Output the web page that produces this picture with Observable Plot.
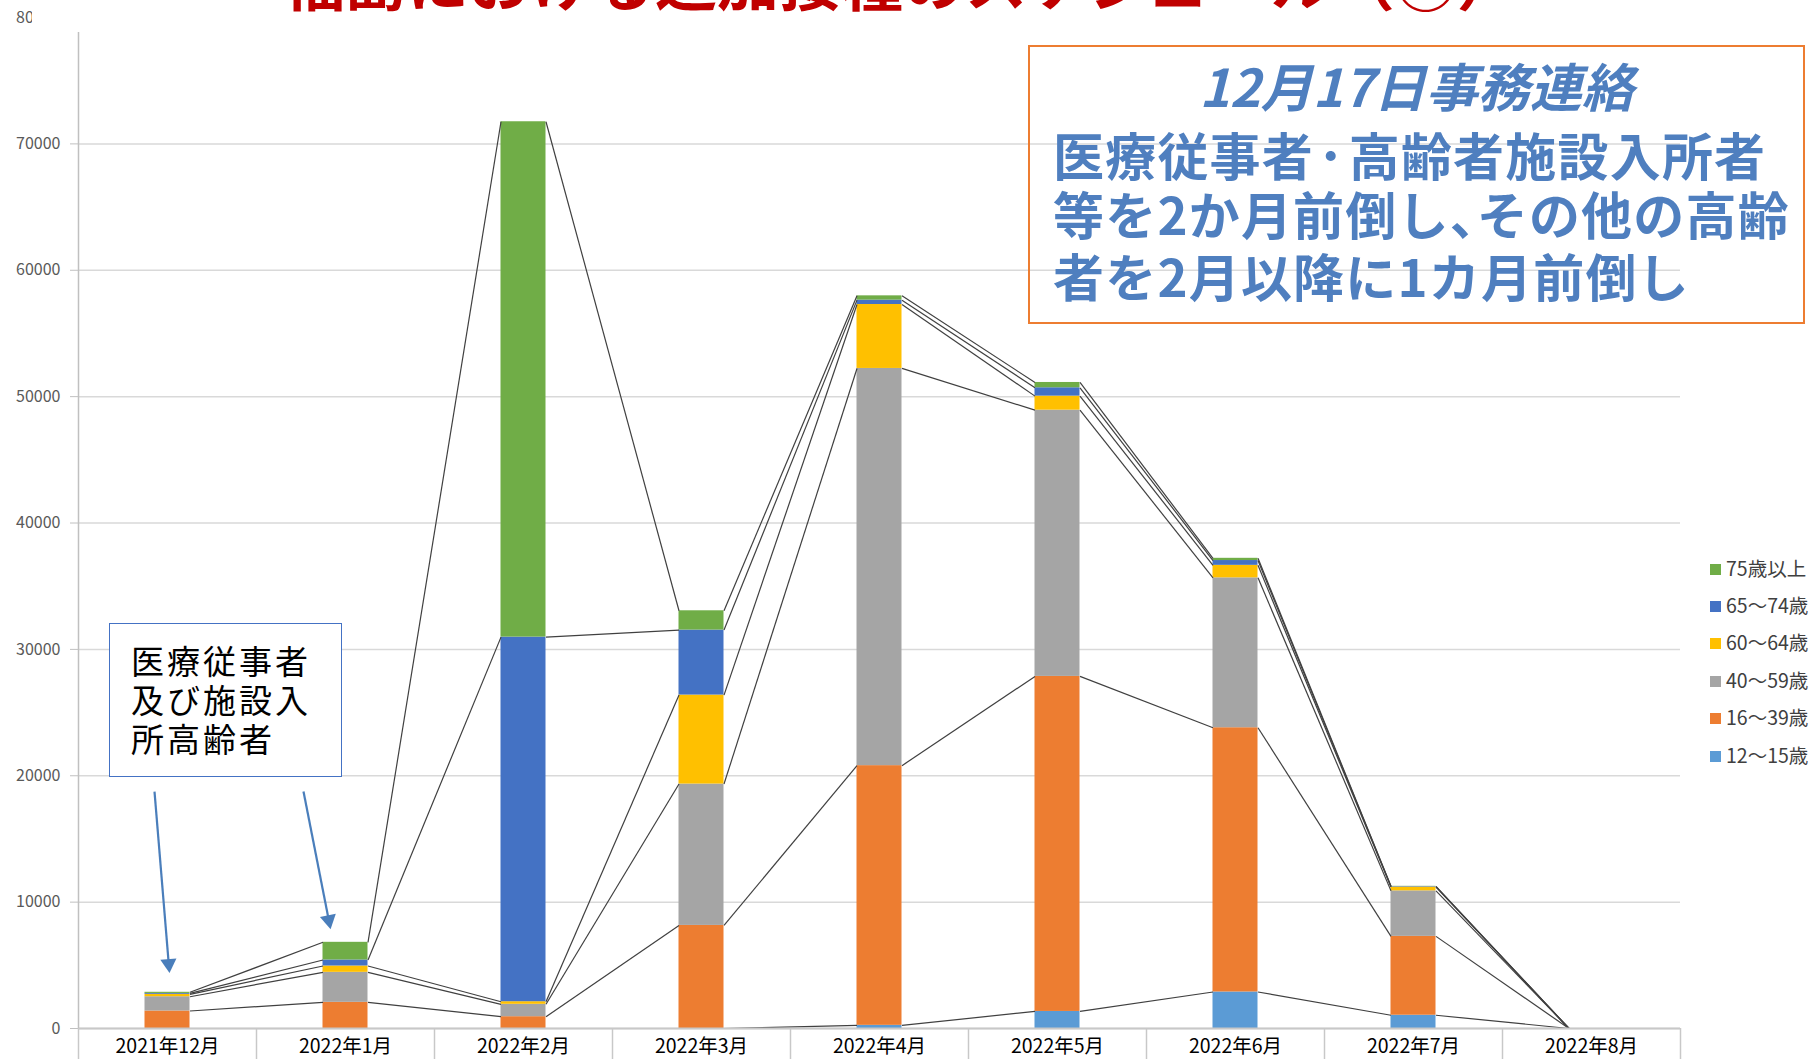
<!DOCTYPE html>
<html><head><meta charset="utf-8">
<script src="https://cdn.jsdelivr.net/npm/d3@7"></script>
<script src="https://cdn.jsdelivr.net/npm/@observablehq/plot@0.6"></script>
<style>
body{margin:0;background:#fff;font-family:"Noto Sans CJK JP","Noto Sans",sans-serif;}
#wrap{position:relative;width:1816px;height:1059px;overflow:hidden;background:#fff;}
#wrap svg{position:absolute;left:0;top:0;}
#title{position:absolute;left:32px;top:0;width:1784px;height:32px;background:#fff;overflow:hidden;}
#title div{position:absolute;left:251px;top:-52px;font-size:62px;line-height:62px;font-weight:700;color:#c00000;white-space:nowrap;}
#legend{position:absolute;left:1710px;top:0;}
.li{position:absolute;left:0;white-space:nowrap;font-size:19.5px;line-height:20px;color:#404040;}
.li i{display:inline-block;width:11px;height:11px;margin-right:5px;vertical-align:1px;}
#obox{position:absolute;left:1028px;top:45px;width:773px;height:275px;border:2px solid #ED7D31;}
.ot{position:absolute;white-space:nowrap;color:#4f7fbf;font-weight:700;}
#bbox{position:absolute;left:109px;top:623px;width:231px;height:152px;border:1.5px solid #4472C4;background:#fff;}
.bt{position:absolute;left:21px;white-space:nowrap;font-size:33px;line-height:33px;letter-spacing:3px;color:#000;}
</style></head>
<body><div id="wrap"></div>
<script>
// ---- data ----
const months = ["2021年12月","2022年1月","2022年2月","2022年3月","2022年4月","2022年5月","2022年6月","2022年7月","2022年8月"];
const groups = ["12〜15歳","16〜39歳","40〜59歳","60〜64歳","65〜74歳","75歳以上"];
const v12_15 = [0, 0, 0, 0, 250, 1350, 2890, 1050, 0];
const v16_39 = [1385, 2070, 934, 8157, 20550, 26510, 20910, 6240, 0];
const v40_59 = [1130, 2375, 981, 11186, 31430, 21070, 11860, 3600, 0];
const v60_64 = [190, 500, 205, 7041, 5060, 1110, 990, 300, 0];
const v65_74 = [70, 475, 28850, 5143, 345, 660, 380, 40, 0];
const v75up  = [90, 1400, 40780, 1527, 340, 420, 176, 20, 0];
const yTicks = [0, 10000, 20000, 30000, 40000, 50000, 60000, 70000, 80000];
const colors = ["#5B9BD5","#ED7D31","#A5A5A5","#FFC000","#4472C4","#70AD47"];

const series = [v12_15, v16_39, v40_59, v60_64, v65_74, v75up];
const hw = 0.1264; // half bar width in band units
const rects = [], cum = months.map(() => []);
months.forEach((m, i) => {
  let base = 0;
  series.forEach((s, g) => {
    const top = base + s[i];
    rects.push({i, group: groups[g], y1: base, y2: top});
    cum[i][g] = top;
    base = top;
  });
});
const links = [];
for (let i = 0; i < months.length - 1; i++)
  groups.forEach((g, k) => links.push({x1: i + hw, y1: cum[i][k], x2: i + 1 - hw, y2: cum[i + 1][k]}));

// annotation arrows (data coords)
const arrows = [
  {x1: -0.073, y1: 18750, x2: 0.007, y2: 5120, rot: 175.3},
  {x1: 0.764, y1: 18750, x2: 0.906, y2: 8585, rot: 168.9}
];

const chart = Plot.plot({
  width: 1816, height: 1059,
  marginLeft: 78, marginRight: 136, marginTop: 17, marginBottom: 31,
  x: {domain: [-0.5, 8.5]},
  y: {domain: [0, 80000]},
  color: {domain: groups, range: colors},
  style: {fontFamily: '"Noto Sans CJK JP","Noto Sans",sans-serif', background: "transparent"},
  marks: [
    Plot.gridY(yTicks, {stroke: "#d9d9d9", strokeOpacity: 1, strokeWidth: 1.5}),
    Plot.rect(rects, {x1: d => d.i - hw, x2: d => d.i + hw, y1: "y1", y2: "y2", fill: "group"}),
    Plot.link(links, {x1: "x1", y1: "y1", x2: "x2", y2: "y2", stroke: "#404040", strokeWidth: 1.2}),
    Plot.ruleY([0], {stroke: "#c8c8c8", strokeWidth: 2}),
    Plot.ruleX([-0.5], {stroke: "#c0c0c0", strokeWidth: 1.5}),
    Plot.axisY({ticks: yTicks, tickSize: 8, tickPadding: 10, fontSize: 16, stroke: "#c0c0c0", fill: "#595959", tickFormat: d => String(d), label: null}),
    Plot.axisX({ticks: d3.range(-0.5, 9, 1), tickSize: 31, stroke: "#c8c8c8", strokeWidth: 1.5, tickFormat: () => "", label: null}),
    Plot.axisX({ticks: d3.range(0, 9), tickSize: 0, tickPadding: 11, fontSize: 19.5, fill: "#000", tickFormat: i => months[i], label: null}),
    Plot.link(arrows, {x1: "x1", y1: "y1", x2: "x2", y2: "y2", stroke: "#4a7ebb", strokeWidth: 2.2}),
    Plot.dot(arrows, {x: "x2", y: "y2", symbol: "triangle", r: 6, fill: "#4a7ebb", rotate: "rot"})
  ]
});
const wrap = document.getElementById("wrap");
wrap.appendChild(chart);

// title (mostly cut off at the top)
const t = document.createElement("div"); t.id = "title";
t.innerHTML = '<div>福島における追加接種のスケジュール（③）</div>';
wrap.appendChild(t);

// legend (top-to-bottom reversed)
const lg = document.createElement("div"); lg.id = "legend";
const lgY = [568, 605, 642, 679.5, 717, 755];
groups.slice().reverse().forEach((g, k) => {
  const it = document.createElement("div"); it.className = "li";
  it.style.top = (lgY[k] - 10) + "px";
  it.innerHTML = `<i style="background:${colors[groups.length - 1 - k]}"></i>${g}`;
  lg.appendChild(it);
});
wrap.appendChild(lg);

// orange note box
const ob = document.createElement("div"); ob.id = "obox";
const oLines = [
  {html: "12月17日事務連絡", size: 52, cy: 88, italic: true, center: true},
  {html: '医療従事者<span style="margin:0 4px">･</span>高齢者施設入所者', size: 51, cy: 157.5},
  {html: '等を2か月前倒し<span style="letter-spacing:-24px">、</span>その他の高齢', size: 51, cy: 216},
  {html: "者を2月以降に1カ月前倒し", size: 51, cy: 278}
];
oLines.forEach(l => {
  const d = document.createElement("div"); d.className = "ot";
  d.innerHTML = l.html;
  d.style.fontSize = l.size + "px"; d.style.lineHeight = l.size + "px";
  d.style.top = (l.cy - 45 - 2 - 0.556 * l.size) + "px";
  if (l.italic) d.style.fontStyle = "italic";
  if (l.center) { d.style.left = "0"; d.style.width = "773px"; d.style.textAlign = "center"; }
  else { d.style.left = (1053 - 1030) + "px"; d.style.letterSpacing = "1.2px"; }
  ob.appendChild(d);
});
wrap.appendChild(ob);

// blue note box
const bb = document.createElement("div"); bb.id = "bbox";
["医療従事者", "及び施設入", "所高齢者"].forEach((s, k) => {
  const d = document.createElement("div"); d.className = "bt";
  d.textContent = s;
  d.style.top = (663 + 39 * k - 624.5 - 0.556 * 33) + "px";
  bb.appendChild(d);
});
wrap.appendChild(bb);
</script>
</body></html>
